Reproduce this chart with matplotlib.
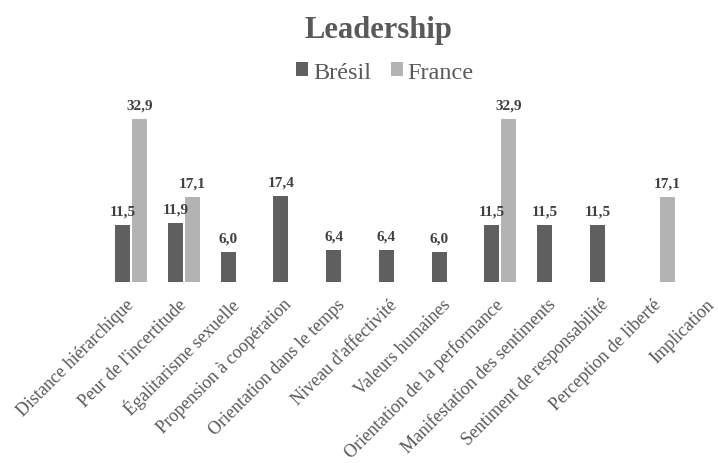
import numpy as np
import matplotlib.pyplot as plt

# data
categories = ['Distance hiérarchique', "Peur de l'incertitude", 'Égalitarisme sexuelle',
              'Propension à coopération', 'Orientation dans le temps', "Niveau d'affectivité",
              'Valeurs humaines', 'Orientation de la performance', 'Manifestation des sentiments',
              'Sentiment de responsabilité', 'Perception de liberté', 'Implication']
bresil = [11.5, 11.9, 6.0, 17.4, 6.4, 6.4, 6.0, 11.5, 11.5, 11.5, np.nan, np.nan]
france = [32.9, 17.1, np.nan, np.nan, np.nan, np.nan, np.nan, 32.9, np.nan, np.nan, 17.1, np.nan]

dark = '#5f5f5f'
light = '#b3b3b3'
txt = '#595959'
width = 0.285
off = 0.161

plt.rcParams['font.family'] = ['Liberation Serif', 'DejaVu Serif']

fig = plt.figure(figsize=(7.18, 4.64), dpi=100)
ax = fig.add_axes([0.1457, 0.390, 0.882, 0.373])

x = np.arange(len(categories))
b1 = ax.bar(x - off, bresil, width=width, color=dark, label='Brésil')
b2 = ax.bar(x + off, france, width=width, color=light, label='France')

for bars, vals in ((b1, bresil), (b2, france)):
    for rect, v in zip(bars, vals):
        if np.isnan(v):
            continue
        ax.text(rect.get_x() + rect.get_width() / 2, v + 1.6, f'{v:.1f}'.replace('.', ','),
                ha='center', va='bottom', fontsize=11, fontweight='bold', color='#404040')

ax.set_xlim(-0.5, len(categories) - 0.5)
ax.set_ylim(0, 35)
ax.set_yticks([])
ax.set_xticks(x)
ax.set_xticklabels(categories, rotation=45, ha='right', va='center', rotation_mode='anchor',
                   fontsize=13, color=txt)
ax.tick_params(axis='x', length=0, pad=14)
for s in ax.spines.values():
    s.set_visible(False)

fig.text(0.527, 0.935, 'Leadership', ha='center', va='center', fontsize=22,
         fontweight='bold', color=txt)
fig.legend(loc='center', bbox_to_anchor=(0.536, 0.842), ncol=2, frameon=False,
           fontsize=17.5, handlelength=0.5, handleheight=0.5, handletextpad=0.2,
           columnspacing=0.8, labelcolor=txt)

fig.savefig('out.png', dpi=100)
